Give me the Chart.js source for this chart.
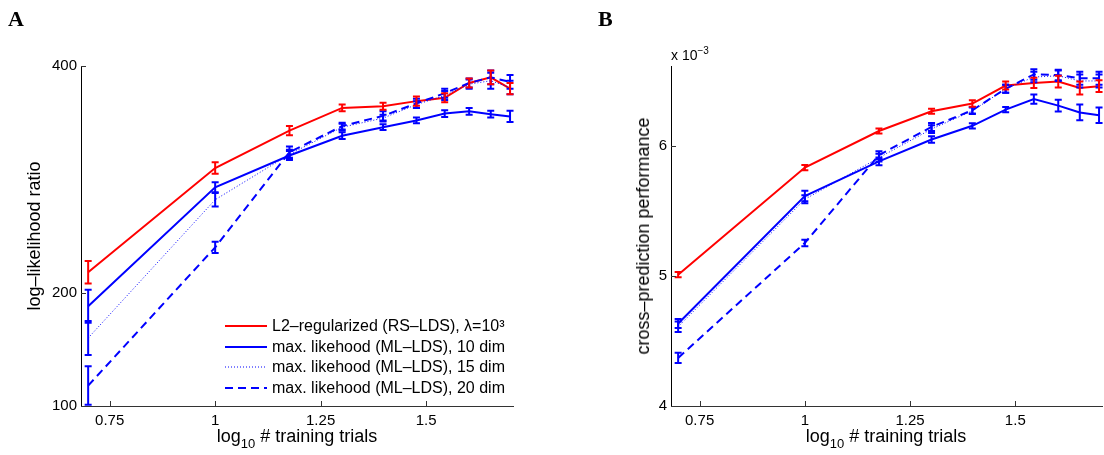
<!DOCTYPE html>
<html>
<head>
<meta charset="utf-8">
<script src="https://cdn.jsdelivr.net/npm/chart.js@4.4.1/dist/chart.umd.min.js"></script>
<style>
  body { margin: 0; background: #fff; }
  #wrap { position: relative; width: 1104px; height: 455px; overflow: hidden; font-family: "Liberation Sans", Arial, sans-serif; color: #000; }
  #wrap canvas { position: absolute; top: 0; }
  .panel { position: absolute; font-family: "Liberation Serif", "DejaVu Serif", serif; font-weight: bold; font-size: 22px; line-height: 22px; }
  .xtitle { position: absolute; font-size: 18px; line-height: 18px; white-space: nowrap; transform: translateX(-50%); }
  .xtitle sub { font-size: 13px; vertical-align: -6px; line-height: 0; }
  .ytitle { position: absolute; font-size: 18px; line-height: 18px; white-space: nowrap; transform: translate(-50%, -50%) rotate(-90deg); }
  .mult { position: absolute; font-size: 14px; line-height: 14px; white-space: nowrap; }
  .mult sup { font-size: 10px; vertical-align: 6px; line-height: 0; }
  .legend { position: absolute; left: 225px; top: 316px; font-size: 16px; }
  .legend .row { height: 20.5px; display: flex; align-items: center; white-space: nowrap; }
  .legend svg { width: 42px; height: 10px; margin-right: 5px; }
</style>
</head>
<body>
<div id="wrap">
  <canvas id="chartA" width="552" height="455" style="left:0"></canvas>
  <canvas id="chartB" width="552" height="455" style="left:552px"></canvas>

  <div class="panel" style="left:8px; top:8px">A</div>
  <div class="panel" style="left:598px; top:8px">B</div>

  <div class="ytitle" style="left:34px; top:236px">log–likelihood ratio</div>
  <div class="ytitle" style="left:643px; top:236px">cross–prediction performance</div>

  <div class="xtitle" style="left:297px; top:427px">log<sub>10</sub> # training trials</div>
  <div class="xtitle" style="left:886px; top:427px">log<sub>10</sub> # training trials</div>

  <div class="mult" style="left:671px; top:48px">x 10<sup>−3</sup></div>

  <div class="legend">
    <div class="row"><svg><line x1="0" y1="5" x2="42" y2="5" stroke="#ff0000" stroke-width="2"/></svg>L2–regularized (RS–LDS), λ=10³</div>
    <div class="row"><svg><line x1="0" y1="5" x2="42" y2="5" stroke="#0000ff" stroke-width="2"/></svg>max. likehood (ML–LDS), 10 dim</div>
    <div class="row"><svg><line x1="0" y1="5" x2="42" y2="5" stroke="#0000ff" stroke-width="1" stroke-dasharray="1 2"/></svg>max. likehood (ML–LDS), 15 dim</div>
    <div class="row"><svg><line x1="0" y1="5" x2="42" y2="5" stroke="#0000ff" stroke-width="2" stroke-dasharray="8 5"/></svg>max. likehood (ML–LDS), 20 dim</div>
  </div>
</div>

<script>
// number of training trials (x axis is log10 of this)
const trials = [5, 10, 15, 20, 25, 30, 35, 40, 45, 50];
const xTicks = [0.75, 1, 1.25, 1.5];

// panel A: log-likelihood ratio
const llTicks = [100, 200, 400];
const llRS    = [218, 310, 343, 363, 364.5, 369, 372, 385, 390, 380];
const llRSErr = [10, 5, 4, 3, 3, 4, 4, 4, 6, 5];
const ll10    = [188, 293, 321, 338.5, 346, 352, 358, 360, 357.5, 355.5];
const ll10Err = [14.6, 4.5, 4, 3, 2.5, 2.5, 3, 3, 3, 5];
const ll15    = [160, 282, 322, 346, 354, 366, 374, 384, 387, 381];
const ll15Err = [15, 6, 4, 3, 3, 3, 4, 4, 7, 6];
const ll20    = [118, 240, 324, 347, 356, 367, 376, 385, 390, 386];
const ll20Err = [17, 5, 5, 3, 4, 4, 4, 4, 6, 6];

// panel B: cross-prediction performance (units of 1e-3)
const cpTicks = [4, 5, 6];
const cpRS    = [5.01, 5.834, 6.115, 6.267, 6.326, 6.465, 6.485, 6.495, 6.446, 6.46];
const cpRSErr = [0.02, 0.02, 0.02, 0.02, 0.025, 0.03, 0.04, 0.045, 0.05, 0.045];
const cp10    = [4.634, 5.615, 5.882, 6.05, 6.155, 6.28, 6.36, 6.31, 6.258, 6.236];
const cp10Err = [0.035, 0.04, 0.03, 0.025, 0.02, 0.02, 0.035, 0.045, 0.06, 0.06];
const cp15    = [4.61, 5.59, 5.91, 6.13, 6.27, 6.44, 6.53, 6.54, 6.50, 6.50];
const cp15Err = [0.04, 0.03, 0.03, 0.03, 0.025, 0.03, 0.04, 0.04, 0.05, 0.05];
const cp20    = [4.37, 5.254, 5.93, 6.146, 6.275, 6.44, 6.55, 6.546, 6.52, 6.52];
const cp20Err = [0.04, 0.025, 0.03, 0.03, 0.025, 0.03, 0.04, 0.04, 0.05, 0.05];

const RED = '#ff0000';
const BLUE = '#0000ff';
const xs = trials.map(t => Math.log10(t));

function series(vals, errs, color, width, dash) {
  return {
    data: vals.map((v, i) => ({ x: xs[i], y: v })),
    errorBars: errs,
    borderColor: color,
    borderWidth: width,
    borderDash: dash,
    pointRadius: 0,
    tension: 0,
    fill: false
  };
}

// vertical error bars with caps, placed through the chart scales
const errorBarPlugin = {
  id: 'errorBars',
  afterDatasetsDraw(chart) {
    const ctx = chart.ctx;
    const ys = chart.scales.y;
    ctx.save();
    chart.data.datasets.forEach((ds, i) => {
      const meta = chart.getDatasetMeta(i);
      ctx.strokeStyle = ds.borderColor;
      ctx.lineWidth = 2;
      ctx.setLineDash([]);
      meta.data.forEach((pt, j) => {
        const v = ds.data[j].y, e = ds.errorBars[j];
        const top = ys.getPixelForValue(v + e);
        const bot = Math.min(ys.getPixelForValue(v - e), chart.chartArea.bottom);
        ctx.beginPath();
        ctx.moveTo(pt.x, top); ctx.lineTo(pt.x, bot);
        ctx.moveTo(pt.x - 3.5, top); ctx.lineTo(pt.x + 3.5, top);
        if (bot < chart.chartArea.bottom) { ctx.moveTo(pt.x - 3.5, bot); ctx.lineTo(pt.x + 3.5, bot); }
        ctx.stroke();
      });
    });
    ctx.restore();
  }
};

// MATLAB style ticks pointing into the plot
const innerTicks = {
  id: 'innerTicks',
  afterDraw(chart) {
    const ctx = chart.ctx, a = chart.chartArea;
    ctx.save();
    ctx.strokeStyle = '#333';
    ctx.lineWidth = 1;
    ctx.beginPath();
    chart.scales.x.ticks.forEach(t => {
      const px = Math.round(chart.scales.x.getPixelForValue(t.value)) + 0.5;
      ctx.moveTo(px, a.bottom); ctx.lineTo(px, a.bottom - 5);
    });
    chart.scales.y.ticks.forEach(t => {
      const py = Math.round(chart.scales.y.getPixelForValue(t.value)) + 0.5;
      ctx.moveTo(a.left, py); ctx.lineTo(a.left + 5, py);
    });
    ctx.stroke();
    ctx.restore();
  }
};

function makeChart(id, datasets, yMin, yMax, yTicks, yWidth, padRight) {
  return new Chart(document.getElementById(id), {
    type: 'line',
    data: { datasets },
    plugins: [errorBarPlugin, innerTicks],
    options: {
      responsive: false,
      animation: false,
      devicePixelRatio: 1,
      layout: { padding: { top: 66, right: padRight, bottom: 0, left: 0 } },
      plugins: { legend: { display: false }, tooltip: { enabled: false } },
      scales: {
        x: {
          type: 'linear',
          min: 0.682,
          max: 1.706,
          grid: { display: false, drawTicks: false },
          border: { display: true, color: '#333', width: 1 },
          afterBuildTicks: s => { s.ticks = xTicks.map(v => ({ value: v })); },
          afterFit: s => { s.height = 49; },
          ticks: {
            padding: 6,
            color: '#000',
            font: { family: '"Liberation Sans", Arial, sans-serif', size: 15 },
            callback: v => String(+v.toFixed(2))
          }
        },
        y: {
          type: 'linear',
          min: yMin,
          max: yMax,
          grid: { display: false, drawTicks: false },
          border: { display: true, color: '#000', width: 1 },
          afterBuildTicks: s => { s.ticks = yTicks.map(v => ({ value: v })); },
          afterFit: s => { s.width = yWidth; },
          ticks: {
            padding: 4,
            color: '#000',
            font: { family: '"Liberation Sans", Arial, sans-serif', size: 15 },
            callback: v => String(v)
          }
        }
      }
    }
  });
}

makeChart('chartA', [
  series(ll15, ll15Err, BLUE, 1, [1, 2]),
  series(ll20, ll20Err, BLUE, 2, [8, 5]),
  series(ll10, ll10Err, BLUE, 2, []),
  series(llRS, llRSErr, RED, 2, [])
], 100, 400, llTicks, 81, 39);

makeChart('chartB', [
  series(cp15, cp15Err, BLUE, 1, [1, 2]),
  series(cp20, cp20Err, BLUE, 2, [8, 5]),
  series(cp10, cp10Err, BLUE, 2, []),
  series(cpRS, cpRSErr, RED, 2, [])
], 4, 6.615, cpTicks, 119, 2);
</script>
</body>
</html>
